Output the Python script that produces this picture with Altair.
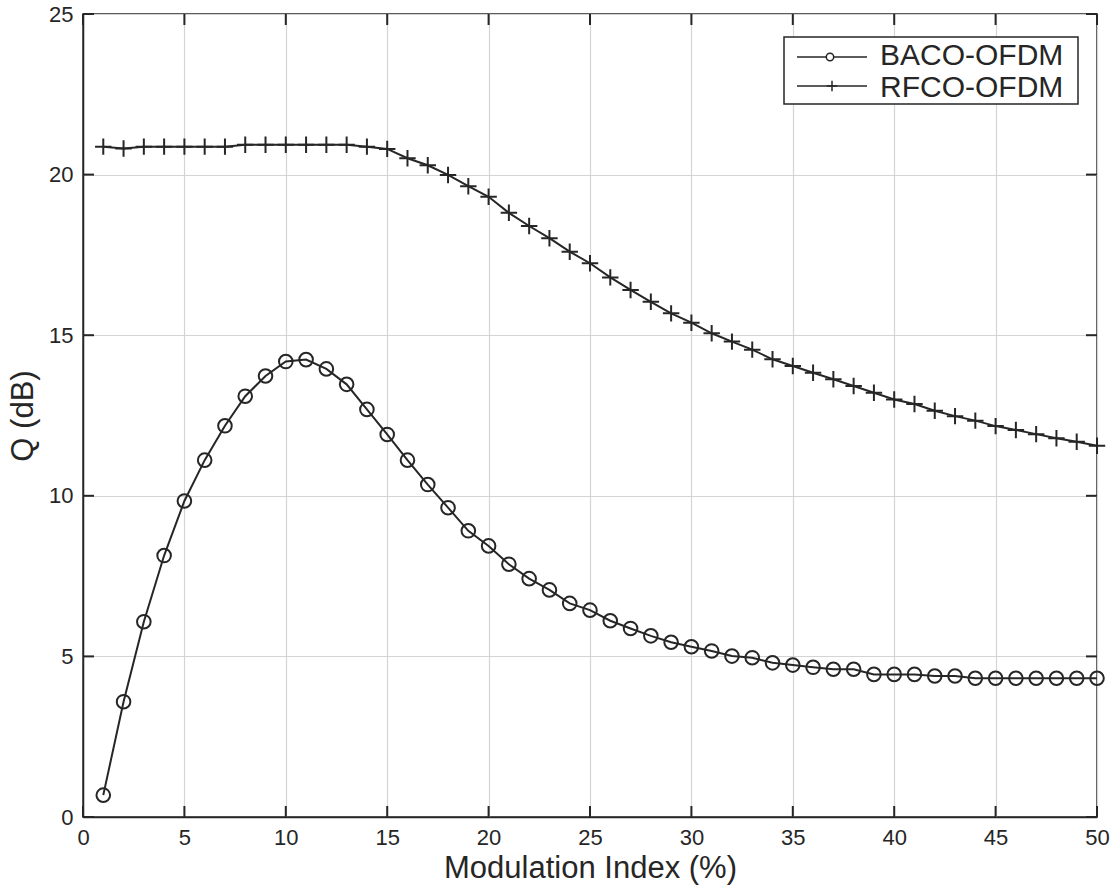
import altair as alt
import pandas as pd

# ---- data ----
mod_index = list(range(1, 51))
baco_q = [0.68, 3.59, 6.08, 8.14, 9.84, 11.11, 12.18, 13.10, 13.73, 14.18,
          14.24, 13.95, 13.47, 12.69, 11.91, 11.11, 10.35, 9.63, 8.91, 8.44,
          7.87, 7.42, 7.07, 6.65, 6.44, 6.11, 5.87, 5.64, 5.44, 5.30,
          5.17, 5.01, 4.96, 4.80, 4.73, 4.66, 4.60, 4.60, 4.44, 4.44,
          4.44, 4.39, 4.39, 4.32, 4.32, 4.32, 4.32, 4.32, 4.32, 4.32]
rfco_q = [20.87, 20.81, 20.87, 20.87, 20.87, 20.87, 20.87, 20.93, 20.93, 20.93,
          20.93, 20.93, 20.93, 20.87, 20.80, 20.51, 20.29, 19.99, 19.64, 19.31,
          18.81, 18.40, 18.02, 17.60, 17.24, 16.80, 16.41, 16.04, 15.68, 15.39,
          15.06, 14.80, 14.55, 14.25, 14.04, 13.83, 13.63, 13.42, 13.21, 13.00,
          12.86, 12.65, 12.48, 12.34, 12.17, 12.05, 11.92, 11.79, 11.68, 11.56]
x_ticks = [0, 5, 10, 15, 20, 25, 30, 35, 40, 45, 50]
y_ticks = [0, 5, 10, 15, 20, 25]
series_names = ["BACO-OFDM", "RFCO-OFDM"]

W, H = 1014, 803
INK = "#262626"
FONT = "Liberation Sans"

baco = pd.DataFrame({"x": mod_index, "q": baco_q})
rfco = pd.DataFrame({"x": mod_index, "q": rfco_q})

xscale = alt.Scale(domain=[0, 50], nice=False, zero=False)
yscale = alt.Scale(domain=[0, 25], nice=False, zero=False)

x_axis = alt.Axis(values=x_ticks, title="Modulation Index (%)", grid=True,
                  ticks=False, labelPadding=10, titlePadding=5,
                  labelFontSize=22, titleFontSize=31)
y_axis = alt.Axis(values=y_ticks, title="Q (dB)", grid=True,
                  ticks=False, labelPadding=10, titlePadding=9,
                  labelFontSize=22, titleFontSize=31)

X = alt.X("x:Q", scale=xscale, axis=x_axis)
Y = alt.Y("q:Q", scale=yscale, axis=y_axis)
Xp = alt.X("x:Q", scale=xscale)
Yp = alt.Y("q:Q", scale=yscale)

baco_line = alt.Chart(baco).mark_line(color=INK, strokeWidth=2).encode(x=X, y=Y)
baco_pts = alt.Chart(baco).mark_point(shape="circle", size=185, filled=False,
                                      color=INK, strokeWidth=2, opacity=1).encode(x=Xp, y=Yp)
rfco_line = alt.Chart(rfco).mark_line(color=INK, strokeWidth=2).encode(x=Xp, y=Yp)
rfco_pts = alt.Chart(rfco).mark_point(shape="M-1,0L1,0M0,-1L0,1", size=270,
                                      filled=False, color=INK, strokeWidth=2,
                                      opacity=1).encode(x=Xp, y=Yp)

# inward tick marks on all four sides (length ~11 px)
xt = pd.DataFrame({"x": x_ticks})
yt = pd.DataFrame({"q": y_ticks})
TL = 11
tick_style = dict(color=INK, strokeWidth=2)
bottom_ticks = alt.Chart(xt).mark_rule(**tick_style).encode(
    x=Xp, y=alt.value(H), y2=alt.value(H - TL))
top_ticks = alt.Chart(xt).mark_rule(**tick_style).encode(
    x=Xp, y=alt.value(0), y2=alt.value(TL))
left_ticks = alt.Chart(yt).mark_rule(**tick_style).encode(
    y=Yp, x=alt.value(0), x2=alt.value(TL))
right_ticks = alt.Chart(yt).mark_rule(**tick_style).encode(
    y=Yp, x=alt.value(W), x2=alt.value(W - TL))

# legend box (drawn by hand, MATLAB style)
one = pd.DataFrame({"k": [0]})
lg_box = alt.Chart(one).mark_rect(fill="white", stroke=INK, strokeWidth=1.5).encode(
    x=alt.value(701), x2=alt.value(995), y=alt.value(23), y2=alt.value(90))
lg_line1 = alt.Chart(one).mark_rule(color=INK, strokeWidth=1.5).encode(
    x=alt.value(714), x2=alt.value(784), y=alt.value(43))
lg_line2 = alt.Chart(one).mark_rule(color=INK, strokeWidth=1.5).encode(
    x=alt.value(714), x2=alt.value(784), y=alt.value(72))
lg_circ = alt.Chart(one).mark_point(shape="circle", size=55, filled=True,
                                    fill="white", stroke=INK, strokeWidth=1.5,
                                    opacity=1).encode(
    x=alt.value(747), y=alt.value(43))
lg_plus = alt.Chart(one).mark_point(shape="M-1,0L1,0M0,-1L0,1", size=110,
                                    filled=False, color=INK, strokeWidth=1.5,
                                    opacity=1).encode(
    x=alt.value(749), y=alt.value(72))
lg_txt1 = alt.Chart(one).mark_text(text=series_names[0], align="left",
                                   baseline="alphabetic", font=FONT, fontSize=30,
                                   color=INK).encode(x=alt.value(797), y=alt.value(51))
lg_txt2 = alt.Chart(one).mark_text(text=series_names[1], align="left",
                                   baseline="alphabetic", font=FONT, fontSize=30,
                                   color=INK).encode(x=alt.value(797), y=alt.value(83))

chart = alt.layer(
    baco_line, baco_pts, rfco_line, rfco_pts,
    bottom_ticks, top_ticks, left_ticks, right_ticks,
    lg_box, lg_line1, lg_line2, lg_circ, lg_plus, lg_txt1, lg_txt2,
).properties(
    width=W, height=H,
    autosize=alt.AutoSizeParams(type="none"),
    padding={"left": 83, "top": 14, "right": 23, "bottom": 69},
    background="white",
).configure_view(
    stroke=INK, strokeWidth=1.5
).configure_axis(
    labelFont=FONT, titleFont=FONT, labelColor=INK, titleColor=INK,
    titleFontWeight="normal", domainColor=INK, domainWidth=1.5,
    gridColor="#d4d4d4", gridWidth=1.2, labelFlush=False,
)

chart.save("out.html", embed_options={"renderer": "svg", "actions": False})
